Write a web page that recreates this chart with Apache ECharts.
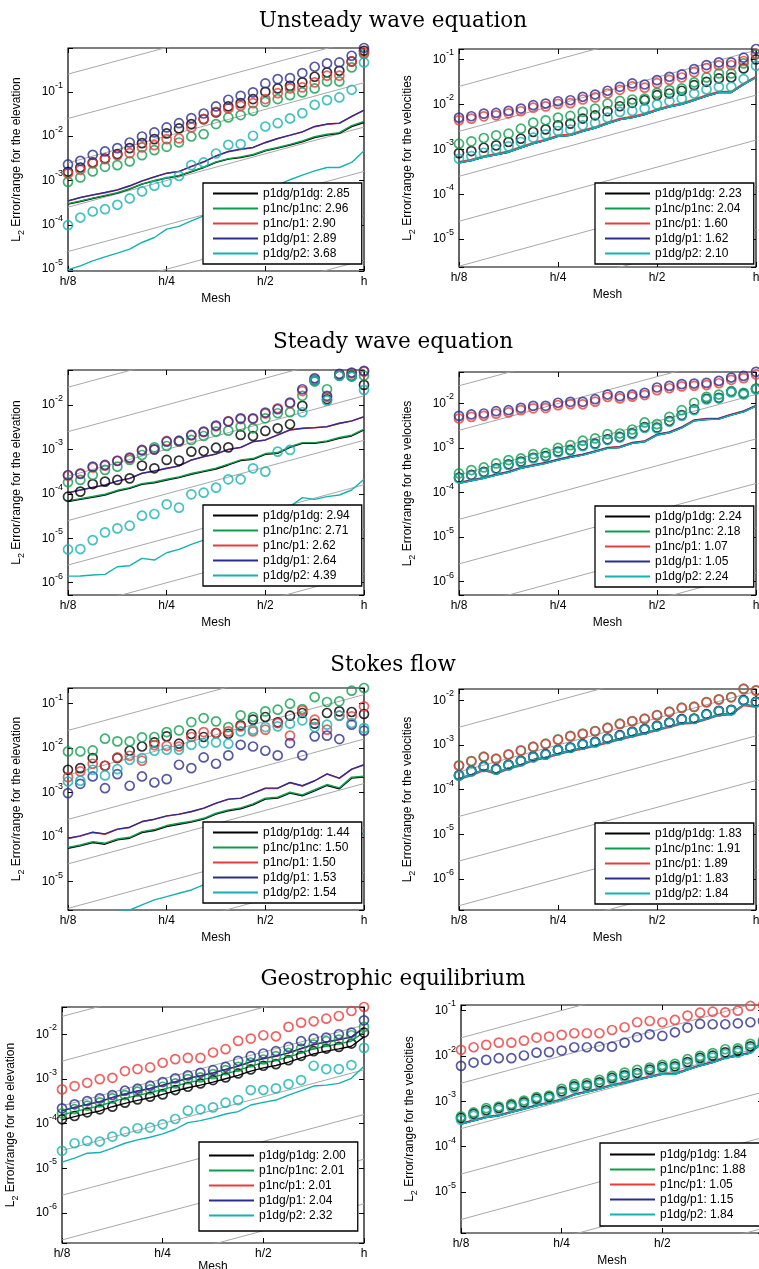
<!DOCTYPE html>
<html><head><meta charset="utf-8">
<script src="https://cdn.jsdelivr.net/npm/echarts@6/dist/echarts.min.js"></script>
<style>html,body{margin:0;padding:0;background:#fff}#c{width:759px;height:1269px}</style>
</head><body><div id="c"></div><script>
// ---------- shared data ----------
const meshValues = [0.125,0.1363,0.1487,0.1621,0.1768,0.1928,0.2102,0.2293,0.25,0.2726,0.2973,0.3242,0.3536,0.3855,0.4204,0.4585,0.5,0.5453,0.5946,0.6484,0.7071,0.7711,0.8409,0.9170,1.0];
const xTickValues = [0.125, 0.25, 0.5, 1];
const xTickLabels = ['h/8', 'h/4', 'h/2', 'h'];
const methodNames = ['p1dg/p1dg', 'p1nc/p1nc', 'p1nc/p1', 'p1dg/p1', 'p1dg/p2'];
const rowTitles = ['Unsteady wave equation', 'Steady wave equation', 'Stokes flow', 'Geostrophic equilibrium'];
const yNameElev = ' Error/range for the elevation';
const yNameVel = ' Error/range for the velocities';
// slope-2 reference lines: value at h/8 and at h
const refAtH8 = [0.25, 0.025, 2.5e-3, 2.5e-4, 2.5e-5, 2.5e-6, 2.5e-7, 2.5e-8, 2.5e-9];
const refAtH  = [16, 1.6, 0.16, 0.016, 1.6e-3, 1.6e-4, 1.6e-5, 1.6e-6, 1.6e-7];

// ---------- Panel 1: unsteady wave, elevation ----------
const P1Rates = [2.85, 2.96, 2.90, 2.89, 3.68];
const P1LineBlack = [2.92e-4,3.36e-4,3.93e-4,4.51e-4,5.18e-4,6.38e-4,8.26e-4,9.8e-4,1.13e-3,1.27e-3,1.57e-3,1.96e-3,2.55e-3,3.03e-3,3.3e-3,3.72e-3,4.67e-3,5.36e-3,6.27e-3,7.45e-3,9.3e-3,1.05e-2,1.15e-2,1.63e-2,2.03e-2];
const P1LineGreen = [3.0e-4,3.45e-4,4.0e-4,4.6e-4,5.3e-4,6.5e-4,8.4e-4,1.0e-3,1.15e-3,1.3e-3,1.6e-3,2.0e-3,2.62e-3,3.1e-3,3.4e-3,3.85e-3,4.8e-3,5.55e-3,6.5e-3,7.75e-3,9.7e-3,1.1e-2,1.2e-2,1.72e-2,2.15e-2];
const P1LineRed = [3.45e-4,4.1e-4,4.7e-4,5.3e-4,6.1e-4,7.5e-4,9.7e-4,1.2e-3,1.45e-3,1.58e-3,2.05e-3,2.6e-3,3.55e-3,4.45e-3,5.0e-3,5.5e-3,7.1e-3,8.75e-3,1.04e-2,1.24e-2,1.63e-2,1.85e-2,1.94e-2,2.75e-2,3.82e-2];
const P1LineBlue = [3.48e-4,4.14e-4,4.75e-4,5.36e-4,6.15e-4,7.59e-4,9.8e-4,1.21e-3,1.46e-3,1.6e-3,2.07e-3,2.64e-3,3.6e-3,4.51e-3,5.09e-3,5.55e-3,7.19e-3,8.85e-3,1.05e-2,1.25e-2,1.65e-2,1.87e-2,1.96e-2,2.78e-2,3.86e-2];
const P1LineCyan = [9.7e-6,1.19e-5,1.54e-5,1.9e-5,2.3e-5,2.83e-5,4.0e-5,5.18e-5,7.98e-5,9.2e-5,1.23e-4,1.6e-4,2.25e-4,2.92e-4,4.14e-4,5.36e-4,6.6e-4,7.85e-4,1.04e-3,1.32e-3,1.65e-3,1.96e-3,1.96e-3,2.55e-3,4.67e-3];
const P1CircBlack = [1.57e-3,1.96e-3,2.55e-3,3.13e-3,3.93e-3,5.36e-3,6.95e-3,8.55e-3,1.15e-2,1.49e-2,1.87e-2,2.42e-2,3.42e-2,4.67e-2,5.55e-2,6.84e-2,0.1,0.119,0.136,0.163,0.218,0.273,0.298,0.483,0.84];
const P1CircGreen = [9.3e-4,1.17e-3,1.6e-3,2.03e-3,2.22e-3,2.69e-3,3.72e-3,4.83e-3,5.74e-3,7.19e-3,9.8e-3,1.11e-2,1.87e-2,2.64e-2,2.98e-2,3.72e-2,5.94e-2,6.84e-2,8.4e-2,9.65e-2,0.119,0.171,0.171,0.354,0.71];
const P1CircRed = [1.44e-3,1.74e-3,2.42e-3,3.03e-3,3.72e-3,4.14e-3,5.55e-3,6.27e-3,8.55e-3,8.85e-3,1.57e-2,2.42e-2,3.54e-2,4.21e-2,4.83e-2,5.55e-2,6.84e-2,9.3e-2,0.119,0.125,0.163,0.23,0.23,0.483,0.77];
const P1CircBlue = [2.3e-3,2.78e-3,3.79e-3,4.51e-3,5.36e-3,7.19e-3,9.8e-3,1.21e-2,1.57e-2,1.96e-2,2.55e-2,3.24e-2,4.67e-2,6.6e-2,8.1e-2,9.7e-2,0.154,0.193,0.203,0.264,0.366,0.436,0.459,0.649,0.97];
const P1CircCyan = [9.8e-5,1.46e-4,2.0e-4,2.25e-4,2.83e-4,3.93e-4,5.65e-4,7.59e-4,9.3e-4,1.27e-3,2.22e-3,2.55e-3,4.06e-3,6.38e-3,6.6e-3,1.02e-2,1.65e-2,1.96e-2,2.5e-2,3.3e-2,5.09e-2,6.49e-2,7.45e-2,0.111,0.459];

// ---------- Panel 2: unsteady wave, velocities ----------
const P2Rates = [2.23, 2.04, 1.60, 1.62, 2.10];
const P2LineBlack = [5.0e-4,5.6e-4,6.7e-4,7.5e-4,8.6e-4,1.08e-3,1.33e-3,1.57e-3,1.94e-3,2.04e-3,2.5e-3,2.97e-3,3.72e-3,4.56e-3,5.06e-3,5.9e-3,7.38e-3,8.75e-3,1.0e-2,1.23e-2,1.52e-2,1.83e-2,1.83e-2,2.76e-2,3.96e-2];
const P2LineGreen = [5.0e-4,5.65e-4,6.7e-4,7.6e-4,8.7e-4,1.09e-3,1.34e-3,1.58e-3,1.95e-3,2.05e-3,2.52e-3,2.99e-3,3.74e-3,4.58e-3,5.1e-3,5.93e-3,7.4e-3,8.8e-3,1.01e-2,1.24e-2,1.53e-2,1.84e-2,1.84e-2,2.78e-2,3.98e-2];
const P2LineRed = [5.3e-4,5.95e-4,7.1e-4,8.0e-4,9.2e-4,1.14e-3,1.41e-3,1.66e-3,2.05e-3,2.16e-3,2.65e-3,3.15e-3,3.94e-3,4.83e-3,5.36e-3,6.25e-3,7.8e-3,9.3e-3,1.06e-2,1.3e-2,1.61e-2,1.94e-2,1.94e-2,2.92e-2,4.2e-2];
const P2LineBlue = [5.0e-4,5.6e-4,6.7e-4,7.55e-4,8.65e-4,1.08e-3,1.33e-3,1.57e-3,1.94e-3,2.04e-3,2.5e-3,2.97e-3,3.72e-3,4.56e-3,5.06e-3,5.9e-3,7.38e-3,8.75e-3,1.0e-2,1.23e-2,1.52e-2,1.83e-2,1.83e-2,2.76e-2,3.96e-2];
const P2LineCyan = [4.99e-4,5.62e-4,6.68e-4,7.54e-4,8.65e-4,1.08e-3,1.33e-3,1.57e-3,1.94e-3,2.04e-3,2.5e-3,2.97e-3,3.72e-3,4.56e-3,5.06e-3,5.9e-3,7.38e-3,8.75e-3,1.0e-2,1.23e-2,1.52e-2,1.83e-2,1.83e-2,2.76e-2,3.96e-2];
const P2CircBlack = [8.2e-4,9.1e-4,1.08e-3,1.22e-3,1.45e-3,1.72e-3,2.42e-3,2.77e-3,3.41e-3,3.72e-3,4.81e-3,5.7e-3,7.0e-3,9.06e-3,1.08e-2,1.23e-2,1.6e-2,1.74e-2,2.0e-2,2.67e-2,3.17e-2,3.76e-2,3.96e-2,6.3e-2,0.1];
const P2CircGreen = [1.33e-3,1.5e-3,1.78e-3,2.04e-3,2.22e-3,2.87e-3,3.91e-3,4.41e-3,5.06e-3,5.51e-3,6.78e-3,8.04e-3,1.04e-2,1.19e-2,1.28e-2,1.34e-2,1.8e-2,2.07e-2,2.25e-2,3.06e-2,3.96e-2,4.86e-2,4.86e-2,8.14e-2,0.129];
const P2CircRed = [4.45e-3,4.8e-3,5.4e-3,5.7e-3,6.3e-3,7.0e-3,8.4e-3,9.0e-3,1.02e-2,1.06e-2,1.28e-2,1.42e-2,1.74e-2,2.1e-2,2.5e-2,2.35e-2,2.95e-2,3.5e-2,3.95e-2,5.2e-2,6.4e-2,7.3e-2,7.4e-2,9.2e-2,0.135];
const P2CircBlue = [5.06e-3,5.42e-3,6.21e-3,6.43e-3,7.13e-3,8.04e-3,9.55e-3,1.04e-2,1.17e-2,1.23e-2,1.47e-2,1.65e-2,2.0e-2,2.45e-2,2.91e-2,2.76e-2,3.45e-2,4.1e-2,4.62e-2,6.08e-2,7.46e-2,8.57e-2,8.57e-2,0.109,0.17];
const P2CircCyan = [6.14e-4,7.03e-4,8.35e-4,9.9e-4,1.16e-3,1.45e-3,1.81e-3,2.14e-3,2.55e-3,2.73e-3,3.41e-3,3.85e-3,5.06e-3,6.78e-3,7.13e-3,8.04e-3,1.0e-2,1.17e-2,1.34e-2,1.74e-2,2.14e-2,2.45e-2,2.45e-2,3.64e-2,7.22e-2];

// ---------- Panel 3: steady wave, elevation ----------
const P3Rates = [2.94, 2.71, 2.62, 2.64, 4.39];
const P3LineBlack = [6.67e-5,7.52e-5,8.34e-5,9.42e-5,1.16e-4,1.33e-4,1.64e-4,1.78e-4,2.05e-4,2.31e-4,2.75e-4,3.16e-4,3.62e-4,4.46e-4,5.58e-4,5.98e-4,7.75e-4,8.17e-4,1.11e-3,1.37e-3,1.37e-3,1.49e-3,1.78e-3,2.0e-3,2.74e-3];
const P3LineGreen = [6.95e-5,7.8e-5,8.7e-5,9.8e-5,1.2e-4,1.38e-4,1.7e-4,1.85e-4,2.13e-4,2.4e-4,2.86e-4,3.29e-4,3.77e-4,4.64e-4,5.8e-4,6.22e-4,8.06e-4,8.5e-4,1.15e-3,1.42e-3,1.42e-3,1.55e-3,1.85e-3,2.08e-3,2.85e-3];
const P3LineRed = [1.05e-4,1.21e-4,1.39e-4,1.57e-4,1.93e-4,2.21e-4,2.88e-4,3.25e-4,3.72e-4,4.2e-4,5.74e-4,6.8e-4,7.8e-4,9.9e-4,1.1e-3,1.48e-3,1.61e-3,2.09e-3,2.72e-3,2.95e-3,3.06e-3,3.22e-3,3.82e-3,4.33e-3,5.4e-3];
const P3LineBlue = [1.06e-4,1.22e-4,1.4e-4,1.58e-4,1.95e-4,2.23e-4,2.9e-4,3.27e-4,3.75e-4,4.24e-4,5.78e-4,6.87e-4,7.89e-4,1.0e-3,1.11e-3,1.49e-3,1.63e-3,2.11e-3,2.74e-3,2.98e-3,3.09e-3,3.25e-3,3.86e-3,4.37e-3,5.46e-3];
const P3LineCyan = [1.41e-6,1.42e-6,1.49e-6,1.54e-6,2.29e-6,2.42e-6,3.53e-6,3.24e-6,4.73e-6,5.62e-6,7.3e-6,9.1e-6,1.18e-5,1.53e-5,1.82e-5,2.36e-5,3.06e-5,3.96e-5,5.14e-5,8.2e-5,7.52e-5,8.63e-5,9.42e-5,1.22e-4,2.12e-4];
const P3CircBlack = [8.63e-5,1.12e-4,1.66e-4,1.88e-4,2.05e-4,2.23e-4,4.31e-4,3.75e-4,5.78e-4,5.58e-4,8.9e-4,9.2e-4,1.09e-3,1.11e-3,2.11e-3,2.0e-3,2.6e-3,2.98e-3,3.67e-3,9.5e-3,3.53e-2,1.34e-2,4.57e-2,4.5e-2,2.82e-2];
const P3CircGreen = [1.82e-4,2.05e-4,2.65e-4,3.44e-4,4.09e-4,5.78e-4,7.48e-4,1.11e-3,1.19e-3,1.49e-3,1.63e-3,2.0e-3,2.51e-3,2.64e-3,3.25e-3,2.98e-3,5.0e-3,6.49e-3,6.84e-3,1.6e-2,3.35e-2,2.25e-2,4.57e-2,4.35e-2,4.57e-2];
const P3CircRed = [2.55e-4,2.9e-4,3.9e-4,4.3e-4,5.6e-4,6.3e-4,9.4e-4,9.9e-4,1.55e-3,1.52e-3,2.05e-3,2.45e-3,3.3e-3,4.3e-3,4.8e-3,4.8e-3,6.4e-3,8.4e-3,1.08e-2,2.05e-2,3.8e-2,1.5e-2,4.8e-2,5.1e-2,5.6e-2];
const P3CircBlue = [2.65e-4,2.8e-4,4.09e-4,4.46e-4,5.48e-4,6.52e-4,9.7e-4,1.0e-3,1.49e-3,1.57e-3,2.11e-3,2.51e-3,3.43e-3,4.22e-3,5.0e-3,5.0e-3,6.72e-3,7.98e-3,1.13e-2,2.25e-2,3.98e-2,1.6e-2,4.99e-2,5.35e-2,5.82e-2];
const P3CircCyan = [5.62e-6,5.73e-6,9.1e-6,1.36e-5,1.67e-5,1.92e-5,3.22e-5,3.52e-5,5.81e-5,4.89e-5,9.75e-5,1.06e-4,1.38e-4,2.12e-4,2.12e-4,3.75e-4,3.16e-4,8.9e-4,9.7e-4,6.84e-3,3.53e-2,1.25e-2,4.5e-2,4.35e-2,2.18e-2];

// ---------- Panel 4: steady wave, velocities ----------
const P4Rates = [2.24, 2.18, 1.07, 1.05, 2.24];
const P4LineBlack = [1.61e-4,1.84e-4,2.08e-4,2.47e-4,2.83e-4,3.48e-4,4.0e-4,4.51e-4,5.36e-4,6.15e-4,6.94e-4,8.24e-4,9.8e-4,1.03e-3,1.27e-3,1.38e-3,1.95e-3,2.2e-3,2.84e-3,4.08e-3,4.38e-3,4.46e-3,5.47e-3,6.5e-3,8.7e-3];
const P4LineGreen = [1.62e-4,1.85e-4,2.1e-4,2.48e-4,2.85e-4,3.5e-4,4.02e-4,4.53e-4,5.4e-4,6.2e-4,7.0e-4,8.3e-4,9.85e-4,1.04e-3,1.28e-3,1.39e-3,1.96e-3,2.22e-3,2.86e-3,4.1e-3,4.4e-3,4.5e-3,5.5e-3,6.55e-3,8.75e-3];
const P4LineRed = [1.69e-4,1.93e-4,2.18e-4,2.6e-4,2.97e-4,3.65e-4,4.2e-4,4.74e-4,5.63e-4,6.46e-4,7.29e-4,8.65e-4,1.03e-3,1.08e-3,1.33e-3,1.45e-3,2.05e-3,2.31e-3,2.98e-3,4.28e-3,4.6e-3,4.68e-3,5.74e-3,6.83e-3,9.1e-3];
const P4LineBlue = [1.66e-4,1.9e-4,2.14e-4,2.55e-4,2.92e-4,3.6e-4,4.13e-4,4.66e-4,5.53e-4,6.35e-4,7.17e-4,8.5e-4,1.01e-3,1.06e-3,1.31e-3,1.42e-3,2.01e-3,2.27e-3,2.93e-3,4.2e-3,4.52e-3,4.6e-3,5.64e-3,6.7e-3,8.95e-3];
const P4LineCyan = [1.61e-4,1.84e-4,2.08e-4,2.47e-4,2.83e-4,3.48e-4,4.0e-4,4.51e-4,5.36e-4,6.15e-4,6.94e-4,8.24e-4,9.8e-4,1.03e-3,1.27e-3,1.38e-3,1.95e-3,2.2e-3,2.84e-3,4.08e-3,4.38e-3,4.46e-3,5.47e-3,6.5e-3,8.7e-3];
const P4CircBlack = [2.17e-4,2.49e-4,2.9e-4,3.5e-4,4.3e-4,4.95e-4,6.05e-4,6.6e-4,8.3e-4,9.0e-4,1.14e-3,1.25e-3,1.57e-3,1.77e-3,2.13e-3,2.95e-3,2.86e-3,4.04e-3,5.5e-3,7.4e-3,1.28e-2,1.34e-2,1.84e-2,1.66e-2,2.14e-2];
const P4CircGreen = [2.69e-4,3.2e-4,3.66e-4,4.51e-4,5.36e-4,5.83e-4,7.31e-4,7.82e-4,1.01e-3,1.16e-3,1.46e-3,1.64e-3,2.05e-3,2.12e-3,2.61e-3,3.75e-3,3.44e-3,5.02e-3,7.08e-3,1.04e-2,1.41e-2,1.59e-2,1.89e-2,1.73e-2,2.17e-2];
const P4CircRed = [4.6e-3,5.0e-3,5.3e-3,5.9e-3,6.3e-3,7.1e-3,7.8e-3,7.9e-3,9.2e-3,9.7e-3,9.6e-3,1.1e-2,1.4e-2,1.3e-2,1.42e-2,1.55e-2,2.0e-2,2.2e-2,2.42e-2,2.5e-2,2.6e-2,2.85e-2,3.4e-2,3.7e-2,4.5e-2];
const P4CircBlue = [5.28e-3,5.67e-3,5.97e-3,6.73e-3,7.08e-3,8.0e-3,8.87e-3,8.87e-3,1.04e-2,1.09e-2,1.09e-2,1.25e-2,1.59e-2,1.46e-2,1.59e-2,1.73e-2,2.29e-2,2.49e-2,2.72e-2,2.81e-2,2.91e-2,3.22e-2,3.83e-2,4.18e-2,5.13e-2];
const P4CircCyan = [2.08e-4,2.39e-4,2.79e-4,3.37e-4,4.14e-4,4.75e-4,5.83e-4,6.37e-4,7.96e-4,8.67e-4,1.1e-3,1.2e-3,1.51e-3,1.7e-3,2.05e-3,2.84e-3,2.75e-3,3.88e-3,5.28e-3,7.08e-3,1.23e-2,1.29e-2,1.77e-2,1.59e-2,2.06e-2];

// ---------- Panel 5: Stokes flow, elevation ----------
const P5Rates = [1.44, 1.50, 1.50, 1.53, 1.54];
const P5LineBlack = [5.62e-5,6.35e-5,7.55e-5,6.93e-5,8.67e-5,9.46e-5,1.27e-4,1.41e-4,1.73e-4,1.95e-4,2.17e-4,2.53e-4,3.28e-4,3.9e-4,4.33e-4,5.32e-4,7.14e-4,7.52e-4,9.75e-4,8.49e-4,1.1e-3,1.45e-3,1.22e-3,2.12e-3,2.23e-3];
const P5LineGreen = [5.9e-5,6.65e-5,7.9e-5,7.3e-5,9.1e-5,9.9e-5,1.33e-4,1.48e-4,1.82e-4,2.05e-4,2.28e-4,2.65e-4,3.44e-4,4.1e-4,4.55e-4,5.6e-4,7.5e-4,7.9e-4,1.02e-3,8.9e-4,1.16e-3,1.52e-3,1.28e-3,2.23e-3,2.34e-3];
const P5LineRed = [9.3e-5,1.05e-4,1.27e-4,1.16e-4,1.49e-4,1.65e-4,2.21e-4,2.5e-4,2.97e-4,3.24e-4,3.72e-4,4.42e-4,5.74e-4,7.05e-4,7.42e-4,9.63e-4,1.24e-3,1.24e-3,1.67e-3,1.41e-3,1.83e-3,2.62e-3,2.09e-3,3.34e-3,4.19e-3];
const P5LineBlue = [9.46e-5,1.07e-4,1.29e-4,1.18e-4,1.51e-4,1.67e-4,2.24e-4,2.53e-4,3.01e-4,3.28e-4,3.77e-4,4.48e-4,5.81e-4,7.14e-4,7.52e-4,9.75e-4,1.26e-3,1.26e-3,1.69e-3,1.43e-3,1.85e-3,2.65e-3,2.12e-3,3.38e-3,4.24e-3];
const P5LineCyan = [6.87e-7,9.7e-7,1.26e-6,1.78e-6,2.11e-6,2.3e-6,2.99e-6,3.87e-6,4.59e-6,5.46e-6,6.49e-6,8.41e-6,1.09e-5,1.3e-5,1.68e-5,2.18e-5,2.82e-5,3.35e-5,4.35e-5,3.98e-5,5.62e-5,7.3e-5,6.7e-5,1.03e-4,1.22e-4];
const P5CircBlack = [3.27e-3,3.56e-3,5.98e-3,4.02e-3,5.98e-3,8.75e-3,1.09e-2,1.35e-2,1.84e-2,1.26e-2,2.08e-2,1.78e-2,2.19e-2,2.11e-2,3.25e-2,4.37e-2,5.01e-2,3.8e-2,5.37e-2,6.17e-2,3.55e-2,6.17e-2,6.72e-2,6.49e-2,5.85e-2];
const P5CircGreen = [8.45e-3,8.45e-3,8.89e-3,1.63e-2,1.42e-2,1.42e-2,1.75e-2,1.78e-2,2.3e-2,2.51e-2,3.86e-2,4.75e-2,4.0e-2,2.98e-2,5.46e-2,5.01e-2,6.72e-2,7.33e-2,0.1,7.59e-2,0.141,0.109,0.113,0.196,0.225];
const P5CircRed = [2.23e-3,3.0e-3,4.46e-3,4.02e-3,6.19e-3,6.75e-3,5.21e-3,1.17e-2,1.13e-2,1.09e-2,1.78e-2,2.3e-2,2.19e-2,2.38e-2,3.09e-2,2.38e-2,2.6e-2,3.67e-2,1.91e-2,7.08e-2,4.37e-2,2.6e-2,5.37e-2,5.19e-2,8.7e-2];
const P5CircBlue = [9.75e-4,1.58e-3,2.31e-3,1.26e-3,2.61e-3,1.43e-3,2.31e-3,1.69e-3,2.01e-3,4.24e-3,3.56e-3,6.19e-3,4.46e-3,6.87e-3,1.19e-2,1.09e-2,8.75e-3,6.87e-3,1.3e-2,6.87e-3,1.84e-2,1.91e-2,1.6e-2,3.37e-2,2.47e-2];
const P5CircCyan = [1.78e-3,1.85e-3,3.27e-3,2.44e-3,3.38e-3,5.48e-3,5.98e-3,8.75e-3,9.2e-3,9.2e-3,1.19e-2,1.3e-2,1.35e-2,1.26e-2,2.38e-2,2.6e-2,2.98e-2,3.09e-2,3.55e-2,4.22e-2,2.98e-2,3.37e-2,5.37e-2,3.67e-2,2.83e-2];

// ---------- Panel 6: Stokes flow, velocities ----------
const P6Rates = [1.83, 1.91, 1.89, 1.83, 1.84];
const P6LineBlack = [1.75e-4,2.15e-4,2.79e-4,2.34e-4,3.03e-4,3.6e-4,4.67e-4,5.26e-4,6.37e-4,7.43e-4,8.53e-4,9.8e-4,1.16e-3,1.38e-3,1.61e-3,1.85e-3,2.2e-3,2.61e-3,3.1e-3,3.21e-3,3.88e-3,4.77e-3,5.02e-3,8.0e-3,7.33e-3];
const P6LineGreen = [1.77e-4,2.17e-4,2.82e-4,2.36e-4,3.06e-4,3.63e-4,4.7e-4,5.3e-4,6.42e-4,7.5e-4,8.6e-4,9.9e-4,1.17e-3,1.39e-3,1.63e-3,1.87e-3,2.22e-3,2.64e-3,3.13e-3,3.24e-3,3.92e-3,4.82e-3,5.07e-3,8.08e-3,7.4e-3];
const P6LineRed = [1.67e-4,2.05e-4,2.66e-4,2.23e-4,2.89e-4,3.43e-4,4.45e-4,5.0e-4,6.07e-4,7.08e-4,8.13e-4,9.34e-4,1.1e-3,1.31e-3,1.53e-3,1.76e-3,2.1e-3,2.49e-3,2.95e-3,3.06e-3,3.7e-3,4.54e-3,4.78e-3,7.62e-3,6.98e-3];
const P6LineBlue = [1.75e-4,2.15e-4,2.79e-4,2.34e-4,3.03e-4,3.6e-4,4.67e-4,5.26e-4,6.37e-4,7.43e-4,8.53e-4,9.8e-4,1.16e-3,1.38e-3,1.61e-3,1.85e-3,2.2e-3,2.61e-3,3.1e-3,3.21e-3,3.88e-3,4.77e-3,5.02e-3,8.0e-3,7.33e-3];
const P6LineCyan = [1.75e-4,2.15e-4,2.79e-4,2.34e-4,3.03e-4,3.6e-4,4.67e-4,5.26e-4,6.37e-4,7.43e-4,8.53e-4,9.8e-4,1.16e-3,1.38e-3,1.61e-3,1.85e-3,2.2e-3,2.61e-3,3.1e-3,3.21e-3,3.88e-3,4.77e-3,5.02e-3,8.0e-3,7.33e-3];
const P6CircBlack = [2.1e-4,2.63e-4,3.3e-4,2.87e-4,3.58e-4,4.42e-4,5.42e-4,6.22e-4,7.8e-4,8.79e-4,1.04e-3,1.17e-3,1.4e-3,1.66e-3,1.97e-3,2.27e-3,2.69e-3,3.19e-3,3.79e-3,3.92e-3,4.91e-3,5.83e-3,6.15e-3,1.01e-2,9.3e-3];
const P6CircGreen = [3.5e-4,4.38e-4,5.47e-4,4.93e-4,6.16e-4,7.6e-4,9.15e-4,1.07e-3,1.34e-3,1.6e-3,1.8e-3,2.06e-3,2.44e-3,3.0e-3,3.45e-3,3.89e-3,4.7e-3,5.58e-3,6.86e-3,7.22e-3,9.2e-3,1.06e-2,1.19e-2,1.83e-2,1.68e-2];
const P6CircRed = [3.43e-4,4.29e-4,5.36e-4,4.83e-4,6.04e-4,7.43e-4,8.97e-4,1.05e-3,1.31e-3,1.56e-3,1.76e-3,2.02e-3,2.39e-3,2.94e-3,3.38e-3,3.81e-3,4.61e-3,5.47e-3,6.73e-3,7.08e-3,9.02e-3,1.04e-2,1.17e-2,1.79e-2,1.65e-2];
const P6CircBlue = [2.08e-4,2.6e-4,3.26e-4,2.84e-4,3.54e-4,4.37e-4,5.36e-4,6.15e-4,7.7e-4,8.7e-4,1.03e-3,1.16e-3,1.38e-3,1.64e-3,1.95e-3,2.24e-3,2.66e-3,3.15e-3,3.75e-3,3.88e-3,4.86e-3,5.76e-3,6.08e-3,1.0e-2,9.2e-3];
const P6CircCyan = [2.04e-4,2.55e-4,3.2e-4,2.79e-4,3.48e-4,4.29e-4,5.26e-4,6.04e-4,7.57e-4,8.53e-4,1.01e-3,1.14e-3,1.36e-3,1.61e-3,1.91e-3,2.2e-3,2.61e-3,3.1e-3,3.68e-3,3.81e-3,4.77e-3,5.66e-3,5.97e-3,9.8e-3,9.02e-3];

// ---------- Panel 7: geostrophic equilibrium, elevation ----------
const P7Rates = [2.00, 2.01, 2.01, 2.04, 2.32];
const P7LineBlack = [1.21e-4,1.43e-4,1.67e-4,1.92e-4,2.39e-4,2.84e-4,3.31e-4,3.8e-4,4.51e-4,5.36e-4,6.35e-4,7.28e-4,8.5e-4,1.01e-3,1.2e-3,1.5e-3,1.77e-3,2.0e-3,2.37e-3,2.96e-3,3.64e-3,4.18e-3,4.71e-3,5.4e-3,8.73e-3];
const P7LineGreen = [1.56e-4,1.85e-4,2.16e-4,2.48e-4,3.1e-4,3.67e-4,4.29e-4,4.91e-4,5.83e-4,6.92e-4,8.2e-4,9.42e-4,1.1e-3,1.3e-3,1.55e-3,1.93e-3,2.3e-3,2.59e-3,3.07e-3,3.84e-3,4.71e-3,5.4e-3,6.08e-3,6.98e-3,1.13e-2];
const P7LineRed = [1.93e-4,2.29e-4,2.68e-4,3.07e-4,3.83e-4,4.55e-4,5.31e-4,6.08e-4,7.21e-4,8.57e-4,1.02e-3,1.17e-3,1.36e-3,1.61e-3,1.91e-3,2.4e-3,2.83e-3,3.2e-3,3.8e-3,4.74e-3,5.83e-3,6.68e-3,7.52e-3,8.64e-3,1.4e-2];
const P7LineBlue = [1.95e-4,2.31e-4,2.7e-4,3.1e-4,3.86e-4,4.59e-4,5.36e-4,6.14e-4,7.28e-4,8.65e-4,1.03e-3,1.18e-3,1.37e-3,1.63e-3,1.93e-3,2.42e-3,2.86e-3,3.23e-3,3.84e-3,4.79e-3,5.89e-3,6.75e-3,7.6e-3,8.73e-3,1.41e-2];
const P7LineCyan = [1.37e-5,1.69e-5,2.18e-5,2.25e-5,2.82e-5,3.64e-5,4.32e-5,4.95e-5,5.89e-5,7.48e-5,1.05e-4,1.17e-4,1.36e-4,1.64e-4,1.85e-4,2.61e-4,2.99e-4,3.37e-4,4.36e-4,5.45e-4,6.92e-4,7.28e-4,7.94e-4,1.03e-3,1.93e-3];
const P7CircBlack = [1.25e-4,1.48e-4,1.79e-4,2.09e-4,2.39e-4,2.94e-4,3.49e-4,4.0e-4,4.51e-4,5.64e-4,6.68e-4,7.94e-4,9.42e-4,1.08e-3,1.33e-3,1.63e-3,1.97e-3,2.14e-3,2.63e-3,3.29e-3,4.18e-3,4.79e-3,5.21e-3,6.19e-3,1.09e-2];
const P7CircGreen = [1.7e-4,2.12e-4,2.52e-4,2.99e-4,3.67e-4,4.36e-4,5.18e-4,5.83e-4,6.68e-4,7.94e-4,9.9e-4,1.08e-3,1.28e-3,1.57e-3,1.87e-3,2.33e-3,2.72e-3,3.23e-3,3.84e-3,4.79e-3,5.89e-3,6.98e-3,7.6e-3,9.5e-3,1.46e-2];
const P7CircRed = [5.83e-4,6.92e-4,8.2e-4,9.9e-4,1.06e-3,1.5e-3,1.66e-3,1.81e-3,2.3e-3,2.77e-3,2.96e-3,2.96e-3,3.9e-3,4.63e-3,7.1e-3,8.0e-3,9.5e-3,9.0e-3,1.46e-2,1.82e-2,1.95e-2,2.23e-2,2.56e-2,3.31e-2,4.07e-2];
const P7CircBlue = [2.2e-4,2.7e-4,3.2e-4,3.67e-4,4.36e-4,5.45e-4,6.04e-4,7.05e-4,8.5e-4,1.03e-3,1.2e-3,1.37e-3,1.57e-3,1.87e-3,2.54e-3,3.23e-3,3.71e-3,4.18e-3,5.21e-3,6.98e-3,8.0e-3,8.43e-3,1.0e-2,1.09e-2,2.05e-2];
const P7CircCyan = [2.46e-5,3.64e-5,4.1e-5,3.97e-5,5.13e-5,6.64e-5,7.87e-5,8.15e-5,9.66e-5,1.27e-4,1.95e-4,2.09e-4,2.31e-4,2.94e-4,3.37e-4,5.64e-4,5.64e-4,6.14e-4,7.67e-4,9.42e-4,1.97e-3,1.66e-3,1.66e-3,2.04e-3,4.95e-3];

// ---------- Panel 8: geostrophic equilibrium, velocities ----------
const P8Rates = [1.84, 1.88, 1.05, 1.15, 1.84];
const P8LineBlack = [3.15e-4,3.72e-4,4.41e-4,4.8e-4,5.69e-4,6.73e-4,7.96e-4,9.12e-4,1.08e-3,1.39e-3,1.59e-3,1.85e-3,2.23e-3,2.51e-3,2.97e-3,3.4e-3,3.95e-3,3.95e-3,4.92e-3,6.03e-3,7.13e-3,8.89e-3,1.0e-2,1.15e-2,2.1e-2];
const P8LineGreen = [3.17e-4,3.75e-4,4.44e-4,4.83e-4,5.73e-4,6.78e-4,8.0e-4,9.2e-4,1.09e-3,1.4e-3,1.6e-3,1.87e-3,2.25e-3,2.53e-3,3.0e-3,3.43e-3,3.98e-3,3.98e-3,4.96e-3,6.08e-3,7.18e-3,8.96e-3,1.01e-2,1.16e-2,2.12e-2];
const P8LineRed = [3.3e-4,3.9e-4,4.63e-4,5.04e-4,5.97e-4,7.07e-4,8.36e-4,9.58e-4,1.13e-3,1.46e-3,1.67e-3,1.94e-3,2.34e-3,2.64e-3,3.12e-3,3.57e-3,4.15e-3,4.15e-3,5.17e-3,6.33e-3,7.49e-3,9.33e-3,1.05e-2,1.21e-2,2.2e-2];
const P8LineBlue = [3.2e-4,3.78e-4,4.48e-4,4.88e-4,5.78e-4,6.84e-4,8.1e-4,9.27e-4,1.1e-3,1.41e-3,1.62e-3,1.88e-3,2.27e-3,2.55e-3,3.02e-3,3.46e-3,4.02e-3,4.02e-3,5.0e-3,6.13e-3,7.25e-3,9.04e-3,1.02e-2,1.17e-2,2.13e-2];
const P8LineCyan = [3.15e-4,3.72e-4,4.41e-4,4.8e-4,5.69e-4,6.73e-4,7.96e-4,9.12e-4,1.08e-3,1.39e-3,1.59e-3,1.85e-3,2.23e-3,2.51e-3,2.97e-3,3.4e-3,3.95e-3,3.95e-3,4.92e-3,6.03e-3,7.13e-3,8.89e-3,1.0e-2,1.15e-2,2.1e-2];
const P8CircBlack = [4.3e-4,5.3e-4,6.35e-4,7.15e-4,8.2e-4,9.5e-4,1.14e-3,1.25e-3,1.66e-3,2.14e-3,2.25e-3,2.62e-3,3.27e-3,3.74e-3,4.2e-3,4.98e-3,5.7e-3,5.9e-3,7.3e-3,9.0e-3,1.01e-2,1.2e-2,1.3e-2,1.62e-2,1.93e-2];
const P8CircGreen = [4.65e-4,5.69e-4,7.08e-4,7.69e-4,8.81e-4,1.04e-3,1.24e-3,1.34e-3,1.88e-3,2.38e-3,2.51e-3,2.97e-3,3.63e-3,4.3e-3,4.92e-3,5.55e-3,6.34e-3,6.67e-3,8.45e-3,1.0e-2,1.15e-2,1.4e-2,1.47e-2,1.84e-2,2.2e-2];
const P8CircRed = [1.36e-2,1.55e-2,1.75e-2,1.96e-2,1.96e-2,2.17e-2,2.53e-2,2.66e-2,2.9e-2,3.15e-2,3.15e-2,3.15e-2,3.72e-2,4.27e-2,5.5e-2,5.87e-2,5.5e-2,6.18e-2,7.69e-2,8.95e-2,9.4e-2,9.12e-2,9.9e-2,0.126,0.13];
const P8CircBlue = [6.03e-3,7.13e-3,8.17e-3,8.89e-3,8.89e-3,1.02e-2,1.18e-2,1.21e-2,1.31e-2,1.55e-2,1.55e-2,1.6e-2,1.6e-2,1.96e-2,2.57e-2,2.99e-2,2.75e-2,3.31e-2,4.2e-2,5.05e-2,4.97e-2,4.97e-2,5.22e-2,5.5e-2,5.9e-2];
const P8CircCyan = [3.92e-4,4.8e-4,5.78e-4,6.5e-4,7.45e-4,8.67e-4,1.04e-3,1.14e-3,1.51e-3,1.95e-3,2.05e-3,2.38e-3,2.97e-3,3.4e-3,3.82e-3,4.53e-3,5.18e-3,5.36e-3,6.67e-3,8.17e-3,9.19e-3,1.09e-2,1.18e-2,1.47e-2,1.75e-2];

// ---------- assembly ----------
const panels = [
  {rates:P1Rates, lines:[P1LineBlack,P1LineGreen,P1LineRed,P1LineBlue,P1LineCyan], circs:[P1CircBlack,P1CircGreen,P1CircRed,P1CircBlue,P1CircCyan], yName:yNameElev},
  {rates:P2Rates, lines:[P2LineBlack,P2LineGreen,P2LineRed,P2LineBlue,P2LineCyan], circs:[P2CircBlack,P2CircGreen,P2CircRed,P2CircBlue,P2CircCyan], yName:yNameVel},
  {rates:P3Rates, lines:[P3LineBlack,P3LineGreen,P3LineRed,P3LineBlue,P3LineCyan], circs:[P3CircBlack,P3CircGreen,P3CircRed,P3CircBlue,P3CircCyan], yName:yNameElev},
  {rates:P4Rates, lines:[P4LineBlack,P4LineGreen,P4LineRed,P4LineBlue,P4LineCyan], circs:[P4CircBlack,P4CircGreen,P4CircRed,P4CircBlue,P4CircCyan], yName:yNameVel},
  {rates:P5Rates, lines:[P5LineBlack,P5LineGreen,P5LineRed,P5LineBlue,P5LineCyan], circs:[P5CircBlack,P5CircGreen,P5CircRed,P5CircBlue,P5CircCyan], yName:yNameElev},
  {rates:P6Rates, lines:[P6LineBlack,P6LineGreen,P6LineRed,P6LineBlue,P6LineCyan], circs:[P6CircBlack,P6CircGreen,P6CircRed,P6CircBlue,P6CircCyan], yName:yNameVel},
  {rates:P7Rates, lines:[P7LineBlack,P7LineGreen,P7LineRed,P7LineBlue,P7LineCyan], circs:[P7CircBlack,P7CircGreen,P7CircRed,P7CircBlue,P7CircCyan], yName:yNameElev},
  {rates:P8Rates, lines:[P8LineBlack,P8LineGreen,P8LineRed,P8LineBlue,P8LineCyan], circs:[P8CircBlack,P8CircGreen,P8CircRed,P8CircBlue,P8CircCyan], yName:yNameVel}
];
// layout (pixels) and axis ranges
const layout = [
  {left:68, right:395, top:48, bottom:998, ymin:9.1e-6, ymax:0.97, lgL:203, lgT:183, pad:[3,12,3,10], meshGap:22},
  {left:459, right:3, top:49, bottom:1002, ymin:2.4e-6, ymax:0.17, lgL:595, lgT:183, pad:[3,12,3,10], meshGap:22},
  {left:68, right:395, top:370, bottom:674, ymin:5.3e-7, ymax:6.1e-2, lgL:203, lgT:505, pad:[3,12,3,10], meshGap:22},
  {left:459, right:3, top:372, bottom:674, ymin:5.0e-7, ymax:5.1e-2, lgL:595, lgT:506, pad:[3,12,3,10], meshGap:22},
  {left:68, right:395, top:688, bottom:359, ymin:2.3e-6, ymax:0.225, lgL:203, lgT:822, pad:[3,12,3,10], meshGap:22},
  {left:459, right:3, top:689, bottom:359, ymin:2.0e-7, ymax:1.8e-2, lgL:595, lgT:823, pad:[3,12,3,10], meshGap:22},
  {left:62, right:395, top:1007, bottom:26, ymin:2.13e-7, ymax:4.07e-2, lgL:199, lgT:1142, pad:[6,12,8,10], meshGap:14},
  {left:461, right:-4, top:1005, bottom:36, ymin:1.26e-6, ymax:0.132, lgL:600, lgT:1143, pad:[4,14,4,10], meshGap:22}
];
const titleTops = [5, 326, 649, 963];
const colors = ['#000000', '#0e9f4e', '#ec3a3a', '#2b2e8f', '#15b2b2'];
const FONT = 'Liberation Sans';

const grids = [], xAxes = [], yAxes = [], series = [], legends = [], titles = [];
rowTitles.forEach((t, r) => titles.push({text: t, left: 388, top: titleTops[r], textAlign: 'center',
  textStyle: {fontFamily: 'DejaVu Serif', fontSize: 21.5, fontWeight: 'normal', color: '#000'}}));

const yFmt = v => { const e = Math.log10(v); const r = Math.round(e); if (Math.abs(e - r) > 1e-4) return ''; return '{b|10}{s|' + r + '}'; };
const xFmt = v => { for (let i = 0; i < xTickValues.length; i++) if (Math.abs(v - xTickValues[i]) < 1e-6) return xTickLabels[i]; return ''; };
const tick = {inside: true, length: 5, lineStyle: {color: '#000', width: 1}};

panels.forEach((p, k) => {
  const L = layout[k];
  grids.push({left: L.left, right: L.right, top: L.top, bottom: L.bottom, outerBoundsMode: 'none', containLabel: false,
    show: true, borderColor: '#000', borderWidth: 1.2, backgroundColor: 'transparent'});
  xAxes.push({gridIndex: k, type: 'log', logBase: 2, min: 0.125, max: 1, position: 'bottom',
    axisLine: {show: false}, axisTick: tick, splitLine: {show: false},
    axisLabel: {formatter: xFmt, fontFamily: FONT, fontSize: 12, color: '#000', margin: 5},
    name: 'Mesh', nameLocation: 'middle', nameGap: L.meshGap, nameTextStyle: {fontFamily: FONT, fontSize: 12, color: '#000'}});
  xAxes.push({gridIndex: k, type: 'log', logBase: 2, min: 0.125, max: 1, position: 'top',
    axisLine: {show: false}, axisTick: tick, splitLine: {show: false}, axisLabel: {show: false}});
  yAxes.push({gridIndex: k, type: 'log', logBase: 10, min: L.ymin, max: L.ymax, position: 'left',
    axisLine: {show: false}, axisTick: tick, splitLine: {show: false},
    axisLabel: {formatter: yFmt, margin: 5, color: '#000',
      rich: {b: {fontFamily: FONT, fontSize: 12, lineHeight: 22, color: '#000'},
             s: {fontFamily: FONT, fontSize: 9, lineHeight: 9, verticalAlign: 'top', color: '#000'}}},
    name: '{a|L}{s|2}{a|' + p.yName + '}', nameLocation: 'middle', nameGap: 42,
    nameTextStyle: {rich: {a: {fontFamily: FONT, fontSize: 12, lineHeight: 18, color: '#000'},
                           s: {fontFamily: FONT, fontSize: 9, lineHeight: 9, verticalAlign: 'bottom', color: '#000'}}}});
  yAxes.push({gridIndex: k, type: 'log', logBase: 10, min: L.ymin, max: L.ymax, position: 'right',
    axisLine: {show: false}, axisTick: tick, splitLine: {show: false}, axisLabel: {show: false}});

  // reference lines (slope 2)
  refAtH8.forEach((v0, j) => series.push({type: 'line', xAxisIndex: 2 * k, yAxisIndex: 2 * k, silent: true,
    data: [[0.125, v0], [1, refAtH[j]]], symbol: 'none', clip: true, z: 1,
    lineStyle: {color: '#a8a8a8', width: 1}}));
  const names = methodNames.map((m, i) => m + ': ' + p.rates[i].toFixed(2));
  p.lines.forEach((arr, i) => series.push({type: 'line', name: names[i], xAxisIndex: 2 * k, yAxisIndex: 2 * k,
    data: arr.map((v, n) => [meshValues[n], v]), symbol: 'none', showSymbol: false, clip: true, z: 2,
    color: colors[i], lineStyle: {color: colors[i], width: 1.4}}));
  p.circs.forEach((arr, i) => series.push({type: 'scatter', name: 'circ' + k + '_' + i, xAxisIndex: 2 * k, yAxisIndex: 2 * k,
    data: arr.map((v, n) => [meshValues[n], v]), symbol: 'circle', symbolSize: 9, clip: false, z: 3,
    itemStyle: {color: 'rgba(0,0,0,0)', borderColor: colors[i], borderWidth: 1.7}}));
  legends.push({data: names, orient: 'vertical', left: L.lgL, top: L.lgT, itemWidth: 45, itemHeight: 2, itemGap: 0,
    icon: 'rect', padding: L.pad, borderColor: '#000', borderWidth: 1.3, backgroundColor: '#fff',
    selectedMode: false, textStyle: {fontFamily: FONT, fontSize: 12, color: '#000', lineHeight: 15}});
});

const chart = echarts.init(document.getElementById('c'), null, {renderer: 'canvas'});
chart.setOption({animation: false, backgroundColor: '#fff', title: titles, grid: grids, xAxis: xAxes, yAxis: yAxes, legend: legends, series: series});
</script></body></html>
